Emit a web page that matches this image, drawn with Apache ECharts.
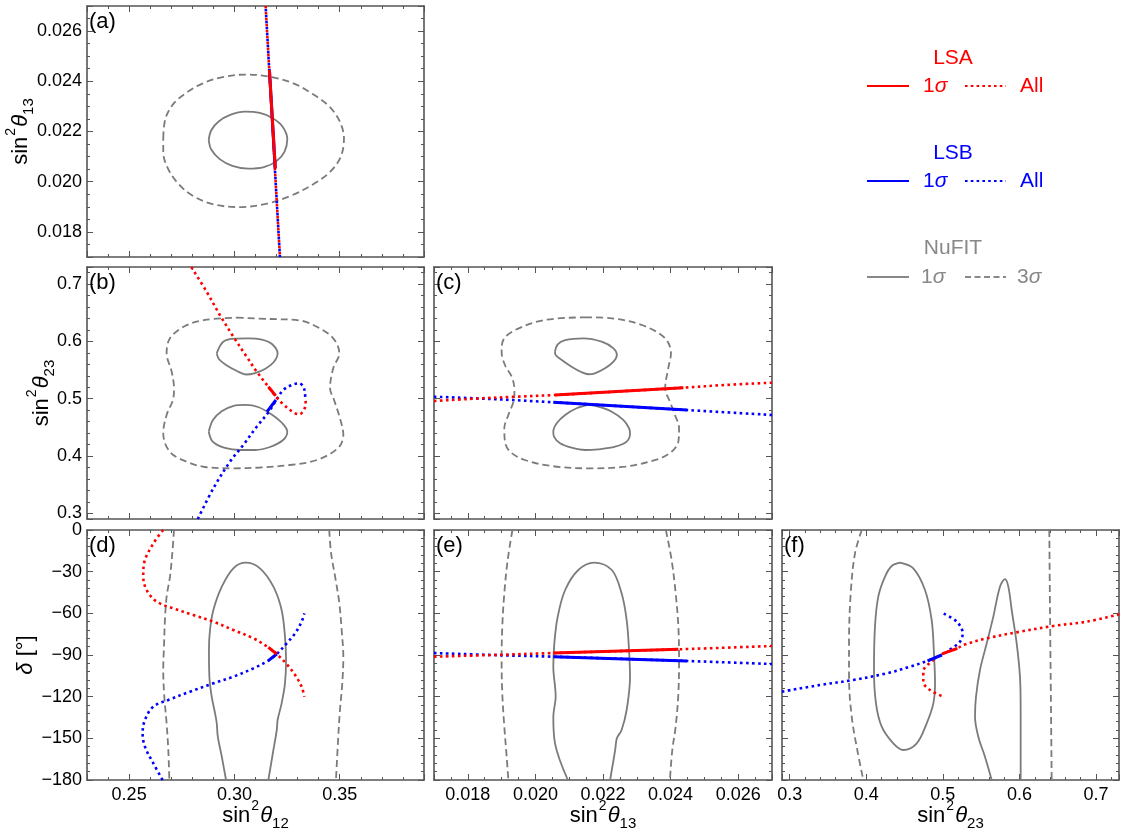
<!DOCTYPE html>
<html><head><meta charset="utf-8">
<script src="https://cdn.jsdelivr.net/npm/echarts@6/dist/echarts.min.js"></script>
<style>html,body{margin:0;padding:0;background:#fff}#c{width:1128px;height:832px}</style>
</head><body><div id="c"></div>
<script>
// ---------------- DATA ----------------
const panelLabels = ['(a)', '(b)', '(c)', '(d)', '(e)', '(f)'];

// axis ranges
const rangeS12 = [0.23, 0.39];
const rangeS13 = [0.017, 0.027];
const rangeS23 = [0.29, 0.73];
const rangeDelta = [-180, 0];

// (a) sin^2 th12 vs sin^2 th13
const a_nufit1 = [[0.2878,0.02166],[0.2890,0.02205],[0.2925,0.02240],[0.2980,0.02266],[0.3050,0.02279],[0.3120,0.02274],[0.3180,0.02254],[0.3228,0.02220],[0.3251,0.02170],[0.3238,0.02120],[0.3200,0.02082],[0.3140,0.02058],[0.3065,0.02052],[0.2990,0.02063],[0.2930,0.02090],[0.2890,0.02128],[0.2878,0.02166]];
const a_nufit3 = [[0.2662,0.02173],[0.2672,0.02250],[0.2710,0.02310],[0.2773,0.02355],[0.2850,0.02392],[0.2950,0.02418],[0.3058,0.02427],[0.3170,0.02418],[0.3280,0.02392],[0.3370,0.02350],[0.3450,0.02300],[0.3500,0.02240],[0.3520,0.02173],[0.3505,0.02100],[0.3455,0.02040],[0.3374,0.01990],[0.3270,0.01945],[0.3150,0.01912],[0.3026,0.01899],[0.2900,0.01910],[0.2800,0.01945],[0.2730,0.01995],[0.2680,0.02060],[0.2662,0.02120],[0.2662,0.02173]];
const a_lsaAll = [[0.3148,0.0270],[0.3182,0.0220],[0.3216,0.0170]];
const a_lsa1s = [[0.3166,0.02445],[0.3194,0.02053]];
const a_lsbAll = [[0.3148,0.0270],[0.3182,0.0220],[0.3216,0.0170]];
const a_lsb1s = [[0.3166,0.02447],[0.3194,0.02053]];

// (b) sin^2 th12 vs sin^2 th23
const b_nufit1Up = [[0.2916,0.5793],[0.2947,0.5996],[0.3002,0.6051],[0.3064,0.6055],[0.3130,0.6034],[0.3178,0.5955],[0.3205,0.5793],[0.3187,0.5641],[0.3145,0.5519],[0.3098,0.5449],[0.3055,0.5423],[0.3012,0.5484],[0.2960,0.5589],[0.2926,0.5694],[0.2916,0.5793]];
const b_nufit1Lo = [[0.2878,0.4424],[0.2898,0.4629],[0.2941,0.4786],[0.2993,0.4873],[0.3053,0.4891],[0.3112,0.4856],[0.3173,0.4733],[0.3226,0.4576],[0.3251,0.4424],[0.3231,0.4279],[0.3169,0.4157],[0.3098,0.4105],[0.3026,0.4105],[0.2955,0.4140],[0.2898,0.4245],[0.2878,0.4424]];
const b_nufit3 = [[0.3011,0.6415],[0.3169,0.6392],[0.3311,0.6366],[0.3391,0.6258],[0.3469,0.6055],[0.3498,0.5793],[0.3469,0.5531],[0.3454,0.5182],[0.3473,0.4978],[0.3501,0.4658],[0.3517,0.4367],[0.3492,0.4140],[0.3391,0.3930],[0.3264,0.3843],[0.3121,0.3799],[0.2995,0.3785],[0.2860,0.3808],[0.2773,0.3901],[0.2694,0.4070],[0.2662,0.4396],[0.2678,0.4716],[0.2710,0.5007],[0.2713,0.5182],[0.2702,0.5472],[0.2678,0.5793],[0.2694,0.6055],[0.2765,0.6270],[0.2860,0.6375],[0.3011,0.6415]];
const b_lsaAll = [[0.2795,0.7300],[0.2868,0.6869],[0.2931,0.6462],[0.2995,0.6083],[0.3058,0.5734],[0.3106,0.5472],[0.3161,0.5210],[0.3197,0.5035],[0.3232,0.4903],[0.3280,0.4763],[0.3307,0.4728],[0.3330,0.4803],[0.3338,0.4948],[0.3336,0.5013]];
const b_lsa1s = [[0.3161,0.5210],[0.3196,0.5053]];
const b_lsbAll = [[0.2826,0.2900],[0.2900,0.3436],[0.2979,0.3901],[0.3042,0.4192],[0.3106,0.4512],[0.3166,0.4786],[0.3201,0.4995],[0.3232,0.5152],[0.3272,0.5240],[0.3307,0.5269],[0.3327,0.5210],[0.3335,0.5095],[0.3336,0.5013]];
const b_lsb1s = [[0.3155,0.4774],[0.3197,0.4978]];

// (c) sin^2 th13 vs sin^2 th23
const c_nufit1Up = [[0.02058,0.5821],[0.02066,0.5950],[0.02088,0.6025],[0.02142,0.6055],[0.02196,0.5996],[0.02231,0.5880],[0.02241,0.5764],[0.02231,0.5647],[0.02206,0.5531],[0.02176,0.5444],[0.02157,0.5427],[0.02137,0.5462],[0.02107,0.5559],[0.02078,0.5676],[0.02060,0.5764],[0.02058,0.5821]];
const c_nufit1Lo = [[0.02157,0.4891],[0.02186,0.4861],[0.02226,0.4774],[0.02260,0.4629],[0.02277,0.4484],[0.02280,0.4396],[0.02270,0.4250],[0.02236,0.4162],[0.02186,0.4117],[0.02147,0.4105],[0.02107,0.4145],[0.02073,0.4222],[0.02055,0.4337],[0.02053,0.4424],[0.02063,0.4571],[0.02088,0.4716],[0.02122,0.4833],[0.02157,0.4891]];
const c_nufit3 = [[0.02147,0.6422],[0.02226,0.6404],[0.02315,0.6287],[0.02384,0.6055],[0.02401,0.5793],[0.02393,0.5531],[0.02384,0.5182],[0.02398,0.4948],[0.02413,0.4716],[0.02425,0.4484],[0.02423,0.4250],[0.02403,0.4075],[0.02364,0.3948],[0.02265,0.3813],[0.02157,0.3785],[0.02048,0.3825],[0.01969,0.3930],[0.01925,0.4075],[0.01910,0.4250],[0.01908,0.4484],[0.01920,0.4716],[0.01935,0.4948],[0.01938,0.5123],[0.01932,0.5357],[0.01910,0.5589],[0.01900,0.5821],[0.01905,0.6025],[0.01940,0.6200],[0.02028,0.6375],[0.02147,0.6422]];
const c_lsaAll = [[0.0170,0.4960],[0.01801,0.4995],[0.01940,0.5035],[0.02058,0.5065],[0.02438,0.5193],[0.02561,0.5240],[0.0270,0.5280]];
const c_lsa1s = [[0.02058,0.5065],[0.02438,0.5193]];
const c_lsbAll = [[0.0170,0.5035],[0.01871,0.4995],[0.02053,0.4938],[0.02448,0.4803],[0.0270,0.4716]];
const c_lsb1s = [[0.02053,0.4938],[0.02448,0.4803]];

// (d) sin^2 th12 vs delta
const d_nufit1 = [[0.2960,-180],[0.2940,-163.2],[0.2921,-148.8],[0.2916,-139.2],[0.2908,-132],[0.2892,-120],[0.2881,-105.6],[0.2879,-86.4],[0.2884,-72],[0.2900,-57.6],[0.2940,-40.8],[0.2995,-27.6],[0.30535,-23.5],[0.3121,-27.6],[0.3185,-40.8],[0.3224,-57.6],[0.3240,-76.8],[0.3245,-93.6],[0.3240,-110.4],[0.3224,-124.8],[0.3205,-136.8],[0.3201,-144],[0.3185,-158.4],[0.3161,-180]];
const d_nufit3L = [[0.2713,0],[0.2705,-16.8],[0.2694,-33.6],[0.2678,-48],[0.2670,-64.8],[0.2666,-81.6],[0.2662,-100.8],[0.2667,-120],[0.2678,-139.2],[0.2686,-158.4],[0.2691,-180]];
const d_nufit3R = [[0.3450,0],[0.3459,-16.8],[0.3478,-33.6],[0.3498,-52.8],[0.3509,-72],[0.3517,-91.2],[0.3512,-110.4],[0.3501,-129.6],[0.3493,-148.8],[0.3482,-180]];
const d_lsaAll = [[0.2662,0],[0.2615,-9.6],[0.2571,-24],[0.2567,-33.6],[0.2583,-43.2],[0.2631,-51.6],[0.2710,-56.4],[0.2805,-61.2],[0.2900,-66],[0.2995,-72],[0.3090,-78],[0.3161,-84.5],[0.3201,-89.3],[0.3248,-96.5],[0.3288,-104.4],[0.3319,-112.8],[0.3332,-120]];
const d_lsa1s = [[0.3161,-84.5],[0.3201,-89.3]];
const d_lsbAll = [[0.2659,-180],[0.2615,-168],[0.2575,-156],[0.2564,-146.4],[0.2575,-136.8],[0.2615,-127.2],[0.2694,-121.9],[0.2789,-116.4],[0.2900,-110.4],[0.2995,-105.6],[0.3090,-99.6],[0.3161,-94.1],[0.3201,-89.3],[0.3248,-81.6],[0.3288,-74.4],[0.3319,-66],[0.3332,-60]];
const d_lsb1s = [[0.3161,-94.1],[0.3201,-89.3]];

// (e) sin^2 th13 vs delta
const e_nufit1 = [[0.02096,-180],[0.02058,-153.6],[0.02053,-134.4],[0.02060,-120],[0.02053,-98.4],[0.02056,-81.6],[0.02066,-62.4],[0.02088,-43.2],[0.02127,-28.8],[0.02174,-23.5],[0.02226,-28.8],[0.02255,-45.6],[0.02270,-64.8],[0.02277,-86.4],[0.02280,-105.6],[0.02270,-129.6],[0.02255,-144],[0.02241,-150],[0.02236,-158.4],[0.02221,-180]];
const e_nufit3L = [[0.01932,0],[0.01918,-21.6],[0.01908,-45.6],[0.01902,-69.6],[0.01900,-93.6],[0.01902,-117.6],[0.01908,-141.6],[0.01915,-163.2],[0.01920,-180]];
const e_nufit3R = [[0.02386,0],[0.02403,-21.6],[0.02415,-45.6],[0.02423,-69.6],[0.02425,-93.6],[0.02423,-117.6],[0.02415,-141.6],[0.02405,-158.4],[0.02398,-180]];
const e_lsaAll = [[0.0170,-91.2],[0.0190,-89.8],[0.02053,-88.6],[0.02423,-85.9],[0.0270,-83.5]];
const e_lsa1s = [[0.02053,-88.6],[0.02423,-85.9]];
const e_lsbAll = [[0.0170,-88.6],[0.0190,-90.2],[0.02053,-91.2],[0.02448,-94.3],[0.0270,-96.5]];
const e_lsb1s = [[0.02053,-91.2],[0.02448,-94.3]];

// (f) sin^2 th23 vs delta
const f_nufit1L = [[0.4441,-23.5],[0.4614,-27.6],[0.4767,-43.2],[0.4854,-64.8],[0.4884,-88.8],[0.4898,-110.4],[0.4876,-124.8],[0.4789,-139.2],[0.4659,-153.6],[0.4484,-158.4],[0.4353,-153.6],[0.4202,-141.6],[0.4127,-124.8],[0.4101,-100.8],[0.4114,-69.6],[0.4157,-48],[0.4245,-33.6],[0.4332,-25.9],[0.4441,-23.5]];
const f_nufit1R = [[0.5638,-180],[0.5550,-163.2],[0.5463,-148.8],[0.5420,-134.4],[0.5433,-120],[0.5485,-100.8],[0.5573,-81.6],[0.5659,-62.4],[0.5746,-40.8],[0.5812,-35.3],[0.5855,-40.8],[0.5899,-57.6],[0.5964,-81.6],[0.6007,-105.6],[0.6016,-129.6],[0.6016,-153.6],[0.6016,-180]];
const f_nufit3L = [[0.3941,0],[0.3853,-16.8],[0.3797,-45.6],[0.3775,-81.6],[0.3775,-105.6],[0.3810,-134.4],[0.3883,-158.4],[0.3962,-180]];
const f_nufit3R = [[0.6390,0],[0.6399,-57.6],[0.6408,-105.6],[0.6421,-180]];
const f_lsaAll = [[0.7304,-60.7],[0.6878,-66],[0.6442,-69.1],[0.6007,-73.2],[0.5573,-78],[0.5267,-82.8],[0.5190,-85.2],[0.5000,-89.0],[0.4875,-93.6],[0.4745,-102],[0.4745,-109.2],[0.4832,-115.2],[0.5006,-120]];
const f_lsa1s = [[0.5190,-85.2],[0.5000,-89.0]];
const f_lsbAll = [[0.2900,-116.4],[0.3396,-111.6],[0.3831,-108],[0.4267,-103.2],[0.4571,-98.4],[0.4800,-94.2],[0.4985,-90],[0.5116,-85.2],[0.5224,-80.4],[0.5259,-74.4],[0.5181,-66],[0.4985,-59.5]];
const f_lsb1s = [[0.4800,-94.2],[0.4985,-90]];

// ---------------- LAYOUT / STYLE ----------------
const FONT = '"Liberation Sans", Arial, Helvetica, sans-serif';
const GRAY = '#7b7b7b';
const FRAME = '#555555';
const RED = '#ff0000';
const BLUE = '#0000ff';

const grids = [
  [87, 6, 337, 251],
  [87, 267, 337, 252],
  [434, 267, 338, 252],
  [87, 530, 337, 250],
  [434, 530, 338, 250],
  [782, 530, 337, 250]
];

const specs = {
  s12: {r: rangeS12, splitNumber: 3, minor: 5, fmt: v => v.toFixed(2), edge: false},
  s13: {r: rangeS13, splitNumber: 5, minor: 4, fmt: v => v.toFixed(3), edge: false},
  s23: {r: rangeS23, splitNumber: 4, minor: 5, fmt: v => v.toFixed(1), edge: false},
  dlt: {r: rangeDelta, interval: 30, minor: 5, fmt: v => (Math.abs(v) < 1e-9 ? '0' : '\u2212' + Math.abs(Math.round(v))), edge: true}
};

const rich = {
  b: {fontSize: 22, fontFamily: FONT, color: '#000', verticalAlign: 'bottom', padding: [0, 0, 4, 0]},
  sp: {fontSize: 14, fontFamily: FONT, color: '#000', verticalAlign: 'bottom', padding: [0, 1, 18, 1]},
  th: {fontSize: 22, fontFamily: FONT, fontStyle: 'italic', color: '#000', verticalAlign: 'bottom', padding: [0, 0, 4, 0]},
  sb: {fontSize: 15, fontFamily: FONT, color: '#000', verticalAlign: 'bottom', padding: [0, 0, 0, 0]}
};
const names = {
  s12: '{b|sin}{sp|2}{th|\u03b8}{sb|12}',
  s13: '{b|sin}{sp|2}{th|\u03b8}{sb|13}',
  s23: '{b|sin}{sp|2}{th|\u03b8}{sb|23}',
  dlt: '{th|\u03b4}{b| [\u00b0]}'
};

// panel definitions: x kind, y kind, show x labels, show y labels, x name gap, y name gap
const panels = [
  {x: 's12', y: 's13', xl: false, yl: true, yg: 51},
  {x: 's12', y: 's23', xl: false, yl: true, yg: 30},
  {x: 's13', y: 's23', xl: false, yl: false},
  {x: 's12', y: 'dlt', xl: true, yl: true, xg: 19, yg: 46},
  {x: 's13', y: 'dlt', xl: true, yl: false, xg: 19},
  {x: 's23', y: 'dlt', xl: true, yl: false, xg: 19}
];

function mkAxis(dim, gi, kind, pos, showLabel, gap) {
  const s = specs[kind];
  const ax = {
    type: 'value', gridIndex: gi, position: pos,
    min: s.r[0], max: s.r[1],
    axisLine: {show: true, onZero: false, lineStyle: {color: FRAME, width: 1.6}},
    axisTick: {show: true, inside: true, length: 6, lineStyle: {color: FRAME, width: 1}},
    minorTick: {show: true, splitNumber: s.minor, length: 3, lineStyle: {color: FRAME, width: 1}},
    splitLine: {show: false}, minorSplitLine: {show: false},
    axisLabel: {show: showLabel, formatter: s.fmt, color: '#000', fontSize: 18, fontFamily: FONT,
      margin: dim === 'x' ? 6 : 5, showMinLabel: s.edge, showMaxLabel: s.edge},
    silent: true
  };
  if (s.interval) ax.interval = s.interval; else ax.splitNumber = s.splitNumber;
  if (gap !== undefined) {
    ax.name = names[kind];
    ax.nameLocation = 'middle';
    ax.nameGap = gap;
    ax.nameMoveOverlap = false;
    ax.nameRotate = dim === 'y' ? 90 : 0;
    ax.nameTextStyle = {rich: rich};
  }
  return ax;
}

const xAxes = [], yAxes = [], series = [];
panels.forEach((p, i) => {
  xAxes.push(mkAxis('x', i, p.x, 'bottom', p.xl, p.xg));
  xAxes.push(mkAxis('x', i, p.x, 'top', false));
  yAxes.push(mkAxis('y', i, p.y, 'left', p.yl, p.yg));
  yAxes.push(mkAxis('y', i, p.y, 'right', false));
});

function S(gi, data, color, kind, extra) {
  const st = {
    c1: {width: 1.8, type: 'solid', z: 2},
    c3: {width: 1.8, type: [7, 4], z: 2},
    all: {width: 2.6, type: [2.6, 3.4], z: 3},
    one: {width: 3, type: 'solid', z: 5}
  }[kind];
  const ls = {color: color, width: st.width, type: st.type, cap: 'butt'};
  if (extra && extra.dashOffset !== undefined) ls.dashOffset = extra.dashOffset;
  series.push({
    type: 'line', xAxisIndex: gi * 2, yAxisIndex: gi * 2, data: data,
    showSymbol: false, symbol: 'none', smooth: (extra && extra.smooth !== undefined) ? extra.smooth : 0.35,
    lineStyle: ls, z: st.z + ((extra && extra.zAdd) || 0), silent: true, animation: false, clip: true
  });
}

// (a)
S(0, a_nufit1, GRAY, 'c1'); S(0, a_nufit3, GRAY, 'c3');
S(0, a_lsbAll, BLUE, 'all', {dashOffset: 3}); S(0, a_lsaAll, RED, 'all', {zAdd: 0.5});
S(0, a_lsb1s, BLUE, 'one'); S(0, a_lsa1s, RED, 'one', {zAdd: 0.5});
// (b)
S(1, b_nufit1Up, GRAY, 'c1'); S(1, b_nufit1Lo, GRAY, 'c1'); S(1, b_nufit3, GRAY, 'c3');
S(1, b_lsbAll, BLUE, 'all'); S(1, b_lsaAll, RED, 'all', {zAdd: 0.5});
S(1, b_lsb1s, BLUE, 'one'); S(1, b_lsa1s, RED, 'one', {zAdd: 0.5});
// (c)
S(2, c_nufit1Up, GRAY, 'c1'); S(2, c_nufit1Lo, GRAY, 'c1'); S(2, c_nufit3, GRAY, 'c3');
S(2, c_lsbAll, BLUE, 'all'); S(2, c_lsaAll, RED, 'all', {zAdd: 0.5});
S(2, c_lsb1s, BLUE, 'one'); S(2, c_lsa1s, RED, 'one', {zAdd: 0.5});
// (d)
S(3, d_nufit1, GRAY, 'c1'); S(3, d_nufit3L, GRAY, 'c3'); S(3, d_nufit3R, GRAY, 'c3');
S(3, d_lsbAll, BLUE, 'all'); S(3, d_lsaAll, RED, 'all', {zAdd: 0.5});
S(3, d_lsb1s, BLUE, 'one'); S(3, d_lsa1s, RED, 'one', {zAdd: 0.5});
// (e)
S(4, e_nufit1, GRAY, 'c1'); S(4, e_nufit3L, GRAY, 'c3'); S(4, e_nufit3R, GRAY, 'c3');
S(4, e_lsbAll, BLUE, 'all'); S(4, e_lsaAll, RED, 'all', {zAdd: 0.5});
S(4, e_lsb1s, BLUE, 'one'); S(4, e_lsa1s, RED, 'one', {zAdd: 0.5});
// (f)
S(5, f_nufit1L, GRAY, 'c1'); S(5, f_nufit1R, GRAY, 'c1'); S(5, f_nufit3L, GRAY, 'c3'); S(5, f_nufit3R, GRAY, 'c3');
S(5, f_lsbAll, BLUE, 'all'); S(5, f_lsaAll, RED, 'all', {zAdd: 0.5});
S(5, f_lsb1s, BLUE, 'one'); S(5, f_lsa1s, RED, 'one', {zAdd: 0.5});

// ---------------- GRAPHIC: panel labels + legend ----------------
const graphics = [];
panelLabels.forEach((t, i) => {
  const g = grids[i];
  graphics.push({type: 'text', x: g[0] + 2, y: g[1] + 5, z: 10, silent: true,
    style: {text: t, font: '22px ' + FONT, fill: '#000', align: 'left', verticalAlign: 'top', textAlign: 'left', textVerticalAlign: 'top'}});
});

const legendRows = [
  {title: 'LSA', color: RED, ty: 58, ry: 86, l1: '1', l2: 'All', dash: [2.6, 3.2], sigmaX: 923, lastX: 1020, lastRich: false},
  {title: 'LSB', color: BLUE, ty: 153, ry: 181, l1: '1', l2: 'All', dash: [2.6, 3.2], sigmaX: 923, lastX: 1020, lastRich: false},
  {title: 'NuFIT', color: '#888888', ty: 248, ry: 277, l1: '1', l2: '3', dash: [6, 3.5], sigmaX: 921, lastX: 1017, lastRich: true}
];
legendRows.forEach(r => {
  const sigRich = {n: {fontSize: 21, fontFamily: FONT, fill: r.color, color: r.color},
                   s: {fontSize: 21, fontFamily: FONT, fontStyle: 'italic', fill: r.color, color: r.color}};
  graphics.push({type: 'text', x: 953, y: r.ty, silent: true,
    style: {text: r.title, font: '21px ' + FONT, fill: r.color, align: 'center', verticalAlign: 'middle', textAlign: 'center', textVerticalAlign: 'middle'}});
  graphics.push({type: 'line', silent: true, shape: {x1: 867, y1: r.ry, x2: 909, y2: r.ry},
    style: {stroke: r.color, lineWidth: 2}});
  graphics.push({type: 'line', silent: true, shape: {x1: 965, y1: r.ry, x2: 1006, y2: r.ry},
    style: {stroke: r.color, lineWidth: 2, lineDash: r.dash}});
  graphics.push({type: 'text', x: r.sigmaX, y: r.ry, silent: true,
    style: {text: '{n|' + r.l1 + '}{s|\u03c3}', rich: sigRich, font: '21px ' + FONT, fill: r.color, align: 'left', verticalAlign: 'middle', textAlign: 'left', textVerticalAlign: 'middle'}});
  graphics.push({type: 'text', x: r.lastX, y: r.ry, silent: true,
    style: {text: r.lastRich ? '{n|' + r.l2 + '}{s|\u03c3}' : r.l2, rich: sigRich, font: '21px ' + FONT, fill: r.color, align: 'left', verticalAlign: 'middle', textAlign: 'left', textVerticalAlign: 'middle'}});
});

const chart = echarts.init(document.getElementById('c'), null, {renderer: 'canvas', width: 1128, height: 832});
chart.setOption({
  animation: false,
  backgroundColor: '#ffffff',
  grid: grids.map(g => ({left: g[0], top: g[1], width: g[2], height: g[3], containLabel: false, outerBoundsMode: 'none', show: false})),
  xAxis: xAxes,
  yAxis: yAxes,
  series: series,
  graphic: graphics
});
</script>
</body></html>
